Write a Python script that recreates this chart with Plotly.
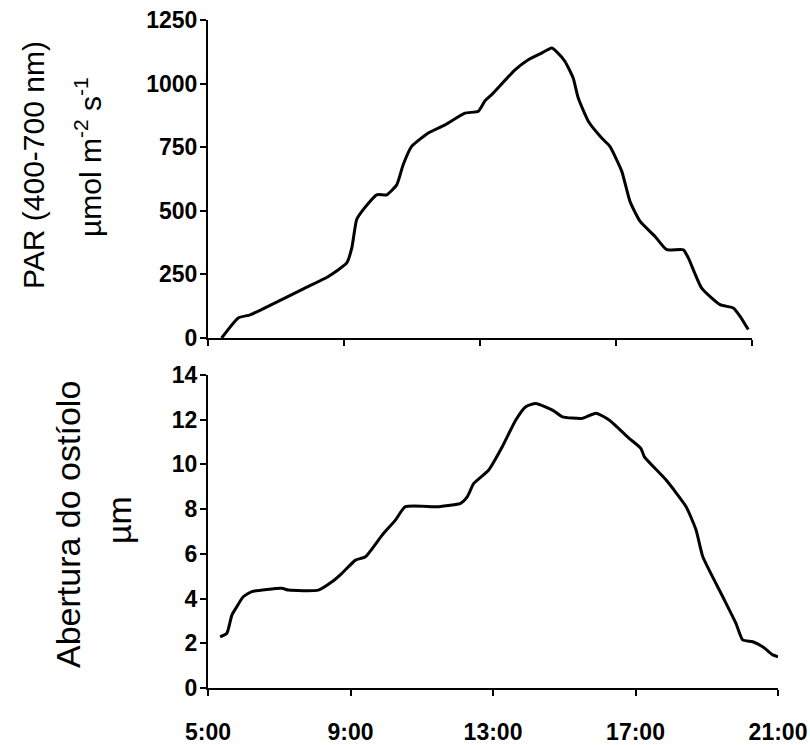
import plotly.graph_objects as go

# --- data (hours of day) ---
par_time = [5.40, 5.89, 6.24, 6.87, 7.85, 8.54, 9.08, 9.23, 9.37, 9.52, 9.96, 10.26, 10.55, 10.74,
            10.99, 11.48, 11.97, 12.56, 12.95, 13.15, 13.34, 14.03, 14.42, 14.81, 15.11, 15.25,
            15.50, 15.74, 15.89, 16.19, 16.58, 16.82, 17.17, 17.41, 17.71, 18.15, 18.49, 18.98,
            19.13, 19.52, 20.06, 20.45, 20.65, 20.89]
par_value = [0, 79, 91, 131, 196, 242, 295, 354, 465, 497, 563, 563, 602, 681,
             753, 806, 838, 884, 891, 933, 956, 1054, 1094, 1120, 1140, 1126,
             1087, 1022, 943, 851, 786, 753, 655, 537, 458, 399, 347, 347,
             314, 196, 131, 118, 85, 33]

ost_time = [5.34, 5.53, 5.67, 5.81, 5.99, 6.23, 7.07, 7.26, 8.10, 8.48, 8.76, 9.14, 9.42, 9.89,
            10.26, 10.54, 11.48, 12.09, 12.28, 12.46, 12.88, 13.26, 13.64, 13.92, 14.20, 14.67,
            14.95, 15.51, 15.89, 16.26, 16.82, 17.15, 17.25, 17.86, 18.42, 18.70, 18.89, 19.45,
            19.82, 20.01, 20.29, 20.57, 20.85, 21.00]
ost_value = [2.29, 2.45, 3.26, 3.64, 4.08, 4.31, 4.46, 4.38, 4.38, 4.75, 5.13, 5.72, 5.87, 6.84,
             7.51, 8.11, 8.11, 8.26, 8.56, 9.15, 9.75, 10.79, 11.99, 12.58, 12.73, 12.43,
             12.13, 12.06, 12.29, 11.99, 11.17, 10.72, 10.34, 9.30, 8.11, 7.07, 5.87, 4.08,
             2.89, 2.15, 2.07, 1.85, 1.48, 1.40]

x_tickvals = [5, 9, 13, 17, 21]
x_ticktext = ["5:00", "9:00", "13:00", "17:00", "21:00"]
par_ticks = [0, 250, 500, 750, 1000, 1250]
ost_ticks = [0, 2, 4, 6, 8, 10, 12, 14]

W, H = 810, 745
FONT = "Liberation Sans, Arial, sans-serif"


def fx(px):
    return px / W


def fy(py):
    return 1 - py / H


fig = go.Figure()
fig.add_trace(go.Scatter(x=par_time, y=par_value, mode="lines", xaxis="x", yaxis="y",
                         line=dict(color="black", width=3, shape="spline", smoothing=0.5),
                         showlegend=False, cliponaxis=False))
fig.add_trace(go.Scatter(x=ost_time, y=ost_value, mode="lines", xaxis="x2", yaxis="y2",
                         line=dict(color="black", width=3, shape="spline", smoothing=0.5),
                         showlegend=False, cliponaxis=False))

axis_common = dict(showline=True, linecolor="black", linewidth=2, ticks="outside",
                   ticklen=6, tickwidth=2, tickcolor="black", showgrid=False, zeroline=False,
                   automargin=False, ticklabeloverflow="allow",
                   tickfont=dict(family=FONT, size=23, color="black", weight="bold"))

fig.update_layout(
    width=W, height=H, margin=dict(l=0, r=0, t=0, b=0, pad=0, autoexpand=False),
    paper_bgcolor="white", plot_bgcolor="white",
    xaxis=dict(domain=[fx(208), fx(752)], range=[5, 21], tickvals=x_tickvals,
               ticktext=[""] * len(x_tickvals), anchor="y", **axis_common),
    yaxis=dict(domain=[fy(338), fy(20)], range=[0, 1250], tickvals=par_ticks,
               anchor="x", ticklabelstandoff=-2, **axis_common),
    xaxis2=dict(domain=[fx(208), fx(778)], range=[5, 21], tickvals=x_tickvals,
                ticktext=x_ticktext, anchor="y2", ticklabelstandoff=16, **axis_common),
    yaxis2=dict(domain=[fy(688), fy(375)], range=[0, 14], tickvals=ost_ticks,
                anchor="x2", ticklabelstandoff=-2, **axis_common),
)

annos = [
    dict(text="PAR (400-700 nm)", x=fx(33), y=fy(165), size=30),
    dict(text="µmol m<sup>-2</sup> s<sup>-1</sup>", x=fx(88), y=fy(157), size=30),
    dict(text="Abertura do ostíolo", x=fx(68), y=fy(525), size=34),
    dict(text="µm", x=fx(119), y=fy(520), size=34),
]
for a in annos:
    fig.add_annotation(xref="paper", yref="paper", x=a["x"], y=a["y"], text=a["text"],
                       textangle=-90, showarrow=False,
                       font=dict(family=FONT, size=a["size"], color="black"),
                       xanchor="center", yanchor="middle")

fig.write_html(
    "out.html",
    config={"displayModeBar": False},
    post_script="document.body.style.margin='0';document.body.style.overflow='hidden';",
)
